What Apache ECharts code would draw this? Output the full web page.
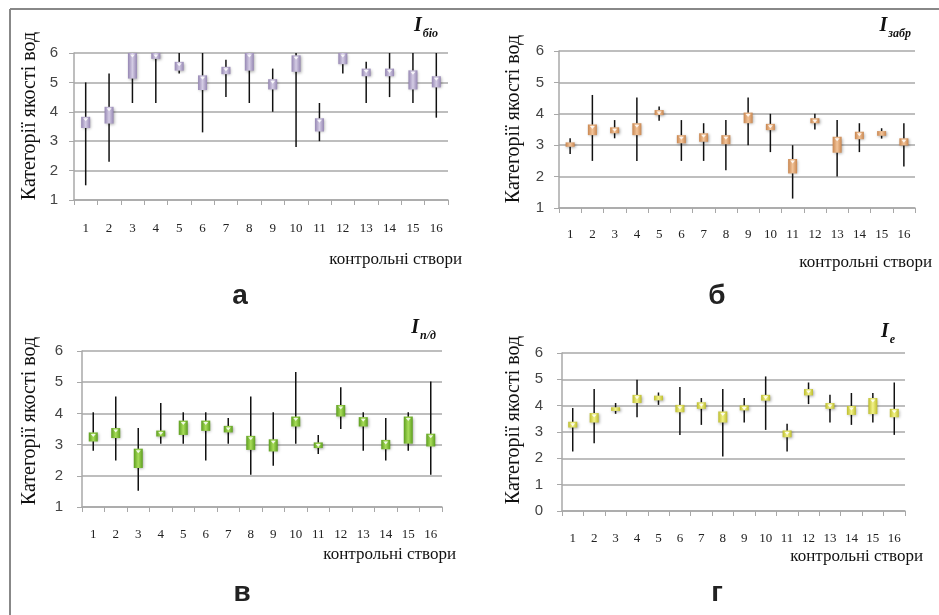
<!DOCTYPE html>
<html lang="uk">
<head>
    <meta charset="utf-8">
    <title>Категорії якості вод</title>
    <script src="https://cdn.jsdelivr.net/npm/echarts@6/dist/echarts.min.js"></script>
    <style>
        html, body { margin: 0; padding: 0; background: #fff; }
        #main { width: 939px; height: 615px; }
    </style>
</head>
<body>
<div id="main"></div>

<script type="text/javascript">
    // контрольні створи
    var stations = ['1','2','3','4','5','6','7','8','9','10','11','12','13','14','15','16'];

    // а: I біо  (мінімум, низ коробки, верх коробки, максимум)
    var bioLow   = [1.5, 2.3, 4.3, 4.3, 5.3, 3.3, 4.5, 4.3, 4.0, 2.8, 3.0, 5.3, 4.3, 4.5, 4.3, 3.8];
    var bioQ1    = [3.45, 3.6, 5.13, 5.8, 5.4, 4.74, 5.28, 5.4, 4.76, 5.36, 3.33, 5.62, 5.21, 5.21, 4.76, 4.83];
    var bioQ3    = [3.83, 4.17, 6.0, 6.0, 5.7, 5.24, 5.53, 6.0, 5.11, 5.92, 3.78, 6.0, 5.47, 5.47, 5.41, 5.21];
    var bioHigh  = [5.0, 5.3, 6.0, 6.0, 6.0, 6.0, 5.77, 6.0, 5.47, 6.0, 4.3, 6.0, 5.7, 6.0, 6.0, 6.0];

    // б: I забр
    var zabLow   = [2.72, 2.5, 3.22, 2.5, 3.78, 2.5, 2.5, 2.2, 3.0, 2.78, 1.3, 3.5, 2.0, 2.78, 3.21, 2.32];
    var zabQ1    = [2.95, 3.32, 3.38, 3.32, 3.96, 3.06, 3.11, 3.03, 3.7, 3.48, 2.1, 3.7, 2.76, 3.19, 3.3, 2.99];
    var zabQ3    = [3.09, 3.66, 3.57, 3.7, 4.12, 3.32, 3.38, 3.32, 4.04, 3.68, 2.56, 3.86, 3.27, 3.43, 3.45, 3.22];
    var zabHigh  = [3.22, 4.6, 3.8, 4.52, 4.23, 3.8, 3.7, 3.8, 4.52, 4.0, 3.0, 4.0, 3.8, 3.7, 3.54, 3.7];

    // в: I п/д
    var pdLow    = [2.8, 2.49, 1.52, 3.03, 3.03, 2.49, 3.03, 2.03, 2.32, 3.03, 2.7, 3.5, 2.8, 2.49, 2.8, 2.03];
    var pdQ1     = [3.1, 3.21, 2.25, 3.26, 3.31, 3.44, 3.39, 2.83, 2.78, 3.58, 2.89, 3.9, 3.58, 2.85, 3.03, 2.94];
    var pdQ3     = [3.39, 3.53, 2.87, 3.45, 3.77, 3.77, 3.6, 3.28, 3.17, 3.9, 3.07, 4.27, 3.88, 3.15, 3.9, 3.35];
    var pdHigh   = [4.04, 4.54, 3.53, 4.33, 4.04, 4.04, 3.85, 4.54, 4.04, 5.33, 3.31, 4.84, 4.04, 3.85, 4.04, 5.02];

    // г: I е
    var eLow     = [2.26, 2.57, 3.69, 3.56, 4.03, 2.89, 3.27, 2.07, 3.36, 3.08, 2.26, 4.06, 3.36, 3.27, 3.36, 2.89];
    var eQ1      = [3.17, 3.36, 3.8, 4.1, 4.2, 3.75, 3.88, 3.36, 3.82, 4.19, 2.8, 4.39, 3.88, 3.65, 3.68, 3.56];
    var eQ3      = [3.39, 3.72, 3.94, 4.41, 4.38, 4.03, 4.13, 3.78, 4.01, 4.41, 3.06, 4.63, 4.1, 3.99, 4.29, 3.88];
    var eHigh    = [3.91, 4.63, 4.1, 4.98, 4.5, 4.71, 4.29, 4.63, 4.29, 5.11, 3.31, 4.88, 4.41, 4.48, 4.48, 4.88];

    var axisGray = '#a8a8a8';
    var serif = '"Liberation Serif", "DejaVu Serif", serif';
    var sans = '"Liberation Sans", Arial, sans-serif';

    function makeData(lo, q1, q3, hi) {
        var out = [];
        for (var i = 0; i < stations.length; i++) {
            out.push([i, lo[i], q1[i], q3[i], hi[i]]);
        }
        return out;
    }

    // коробка з вусами, малюється через координати осей
    function boxRenderer(dark, light) {
        return function (params, api) {
            var i = api.value(0);
            var pLo = api.coord([i, api.value(1)]);
            var pQ1 = api.coord([i, api.value(2)]);
            var pQ3 = api.coord([i, api.value(3)]);
            var pHi = api.coord([i, api.value(4)]);
            var w = 9;
            var cx = pLo[0];
            var top = pQ3[1], h = pQ1[1] - pQ3[1];
            var children = [{
                type: 'line',
                shape: { x1: cx, y1: pHi[1], x2: cx, y2: pLo[1] },
                style: { stroke: '#111', lineWidth: 1.5 }
            }, {
                type: 'rect',
                shape: { x: cx - w / 2, y: top, width: w, height: h },
                style: {
                    fill: {
                        type: 'linear', x: 0, y: 0, x2: 1, y2: 0,
                        colorStops: [
                            { offset: 0, color: dark },
                            { offset: 0.5, color: light },
                            { offset: 1, color: dark }
                        ]
                    },
                    shadowBlur: 3,
                    shadowColor: 'rgba(0,0,0,0.35)',
                    shadowOffsetX: 1,
                    shadowOffsetY: 1
                }
            }];
            if (h > 5) {
                children.push({
                    type: 'polygon',
                    shape: { points: [[cx - 2.5, top + 1.5], [cx + 2.5, top + 1.5], [cx, top + 4.5]] },
                    style: { fill: 'rgba(255,255,255,0.85)' }
                });
            }
            return { type: 'group', children: children };
        };
    }

    var grids = [
        { left: 74,  top: 53,  width: 374, height: 147 },
        { left: 559, top: 51,  width: 356, height: 157 },
        { left: 82,  top: 351, width: 360, height: 156 },
        { left: 562, top: 353, width: 343, height: 158 }
    ];
    var yMins = [1, 1, 1, 0];
    var yLabelMargins = [16, 15, 19, 19];
    var labelMargins = [22, 20, 21, 21];

    var xAxes = [], yAxes = [];
    for (var g = 0; g < 4; g++) {
        xAxes.push({
            gridIndex: g,
            type: 'category',
            data: stations,
            boundaryGap: true,
            axisLine: { lineStyle: { color: axisGray, width: 1.5 } },
            axisTick: { show: true, length: 5, lineStyle: { color: axisGray, width: 1 } },
            axisLabel: { color: '#222', fontFamily: serif, fontSize: 13, margin: labelMargins[g] },
            splitLine: { show: false }
        });
        yAxes.push({
            gridIndex: g,
            type: 'value',
            min: yMins[g],
            max: 6,
            interval: 1,
            axisLine: { show: true, lineStyle: { color: axisGray, width: 1.5 } },
            axisTick: { show: true, length: 5, lineStyle: { color: axisGray } },
            axisLabel: { color: '#444', fontFamily: sans, fontSize: 15, margin: yLabelMargins[g] },
            splitLine: { lineStyle: { color: axisGray, width: 1.5 } }
        });
    }

    var palette = [
        ['#9586b3', '#d4cce4'],
        ['#c9864f', '#f2c49a'],
        ['#5c9e1e', '#a8dc5a'],
        ['#bdbd2c', '#f2f28a']
    ];
    var allData = [
        makeData(bioLow, bioQ1, bioQ3, bioHigh),
        makeData(zabLow, zabQ1, zabQ3, zabHigh),
        makeData(pdLow, pdQ1, pdQ3, pdHigh),
        makeData(eLow, eQ1, eQ3, eHigh)
    ];
    var series = [];
    for (var s = 0; s < 4; s++) {
        series.push({
            type: 'custom',
            xAxisIndex: s,
            yAxisIndex: s,
            renderItem: boxRenderer(palette[s][0], palette[s][1]),
            encode: { x: 0, y: [1, 2, 3, 4] },
            data: allData[s],
            clip: false
        });
    }

    function title(right, baseY, sub) {
        return {
            type: 'text', x: right, y: baseY,
            style: {
                text: '{i|I}{s|' + sub + '}',
                align: 'right', verticalAlign: 'bottom',
                rich: {
                    i: { fontFamily: serif, fontSize: 20, fontStyle: 'italic', fontWeight: 'bold', fill: '#111', padding: [0, 1, 4, 0], verticalAlign: 'bottom' },
                    s: { fontFamily: serif, fontSize: 12, fontStyle: 'italic', fontWeight: 'bold', fill: '#111', verticalAlign: 'bottom' }
                }
            }
        };
    }
    function yName(cx, cy) {
        return {
            type: 'text', x: cx, y: cy, rotation: Math.PI / 2,
            style: { text: 'Категорії якості вод', fontFamily: serif, fontSize: 20, fill: '#111', align: 'center', verticalAlign: 'middle' }
        };
    }
    function xName(right, y) {
        return {
            type: 'text', x: right, y: y,
            style: { text: 'контрольні створи', fontFamily: serif, fontSize: 17, fill: '#111', align: 'right', verticalAlign: 'middle' }
        };
    }
    function letter(x, y, t) {
        return {
            type: 'text', x: x, y: y,
            style: { text: t, fontFamily: sans, fontSize: 28, fontWeight: 'bold', fill: '#222', align: 'center', verticalAlign: 'middle' }
        };
    }

    var myChart = echarts.init(document.getElementById('main'));
    myChart.setOption({
        animation: false,
        grid: grids,
        xAxis: xAxes,
        yAxis: yAxes,
        series: series,
        graphic: [
            { type: 'line', shape: { x1: 10, y1: 9, x2: 939, y2: 9 }, style: { stroke: '#888', lineWidth: 2 } },
            { type: 'line', shape: { x1: 10, y1: 9, x2: 10, y2: 615 }, style: { stroke: '#888', lineWidth: 2 } },
            yName(30, 116),
            yName(514, 119),
            yName(30, 421),
            yName(514, 420),
            title(438, 40, 'біо'),
            title(911, 40, 'забр'),
            title(436, 342, 'п/д'),
            title(895, 346, 'е'),
            xName(462, 260),
            xName(932, 263),
            xName(456, 555),
            xName(923, 557),
            letter(240, 296, 'а'),
            letter(717, 296, 'б'),
            letter(242, 593, 'в'),
            letter(717, 593, 'г')
        ]
    });
</script>
</body>
</html>
